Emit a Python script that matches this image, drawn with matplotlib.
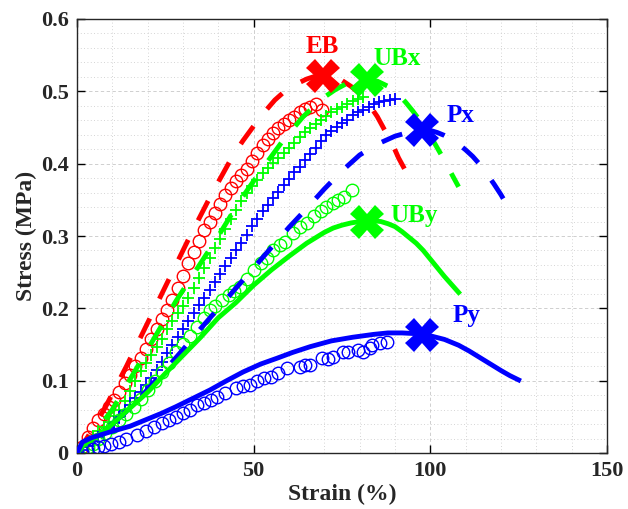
import matplotlib
matplotlib.use("Agg")
import matplotlib.pyplot as plt
from matplotlib.ticker import MultipleLocator, FixedLocator

plt.rcParams['font.family'] = ['Liberation Serif', 'DejaVu Serif']
plt.rcParams['font.weight'] = 'bold'

# ---------------- data ----------------
# EB: experiment (circles) and model (dashed)
eb_exp_x = [0, 1.5, 3, 4.5, 6, 7.5, 9, 10.5, 12, 13.5, 15, 16.5, 18, 19.5, 21, 22.5, 24, 25.5, 27, 28.5,
            30, 31.5, 33, 34.5, 36, 37.5, 39, 40.5, 42, 43.5, 45, 46.5, 48, 49.5, 51, 52.5, 54, 55.5,
            57, 58.5, 60, 61.5, 63, 64.5, 66, 67.5, 69.4]
eb_exp_y = [0, 0.008, 0.022, 0.034, 0.045, 0.054, 0.063, 0.073, 0.085, 0.097, 0.108, 0.120, 0.132, 0.144,
            0.158, 0.172, 0.185, 0.198, 0.212, 0.228, 0.245, 0.262, 0.278, 0.293, 0.308, 0.320, 0.332,
            0.344, 0.356, 0.367, 0.376, 0.384, 0.393, 0.403, 0.415, 0.426, 0.434, 0.442, 0.449, 0.455,
            0.460, 0.465, 0.471, 0.476, 0.479, 0.482, 0.474]
eb_mod_x = [0, 3, 8, 14, 20, 26, 32, 38, 44, 47, 50, 53, 56, 59, 62, 65, 67.5, 70, 72.5, 75, 77.5, 80,
            82.5, 85, 87, 89, 91, 93, 94.3]
eb_mod_y = [0, 0.022, 0.063, 0.120, 0.180, 0.240, 0.300, 0.357, 0.410, 0.432, 0.452, 0.471, 0.488, 0.501,
            0.510, 0.517, 0.521, 0.522, 0.520, 0.515, 0.507, 0.497, 0.483, 0.465, 0.447, 0.430, 0.408,
            0.390, 0.378]

# UBx: experiment (+) and model (dashed)
ubx_exp_x = [0, 1.5, 3, 4.5, 6, 7.5, 9, 10.5, 12, 13.5, 15, 16.5, 18, 19.5, 21, 22.5, 24, 25.5, 27, 28.5,
             30, 31.5, 33, 34.5, 36, 37.5, 39, 40.5, 42, 43.5, 45, 46.5, 48, 49.5, 51, 52.5, 54, 55.5,
             57, 58.5, 60, 61.5, 63, 64.5, 66, 67.5, 69, 70.5, 72, 73.5, 75, 76.5, 78, 79.5, 81]
ubx_exp_y = [0, 0.008, 0.015, 0.022, 0.030, 0.036, 0.043, 0.051, 0.060, 0.072, 0.086, 0.100, 0.113, 0.124,
             0.135, 0.147, 0.158, 0.171, 0.183, 0.194, 0.203, 0.214, 0.228, 0.242, 0.256, 0.270, 0.283,
             0.296, 0.310, 0.323, 0.336, 0.348, 0.360, 0.369, 0.378, 0.387, 0.394, 0.401, 0.408, 0.415,
             0.422, 0.429, 0.437, 0.444, 0.450, 0.455, 0.461, 0.466, 0.471, 0.475, 0.478, 0.482, 0.486,
             0.489, 0.492]
ubx_mod_x = [0, 4, 10, 16, 22, 28, 34, 40, 46, 52, 58, 64, 70, 73, 76, 79, 82, 85, 88, 90.5, 93, 95, 97,
             99, 101, 103, 105, 108]
ubx_mod_y = [0, 0.022, 0.060, 0.110, 0.160, 0.210, 0.255, 0.300, 0.348, 0.390, 0.430, 0.465, 0.492, 0.502,
             0.510, 0.514, 0.516, 0.514, 0.507, 0.498, 0.485, 0.473, 0.460, 0.445, 0.430, 0.413, 0.395,
             0.368]

# Px: experiment (+) and model (dashed)
px_exp_x = [0, 1.5, 3, 4.5, 6, 7.5, 9, 10.5, 12, 13.5, 15, 16.5, 18, 19.5, 21, 22.5, 24, 25.5, 27, 28.5,
            30, 31.5, 33, 34.5, 36, 37.5, 39, 40.5, 42, 43.5, 45, 46.5, 48, 49.5, 51, 52.5, 54, 55.5,
            57, 58.5, 60, 61.5, 63, 64.5, 66, 67.5, 69, 70.5, 72, 73.5, 75, 76.5, 78, 79.5, 81, 82.5,
            84, 85.5, 87, 88.5, 90]
px_exp_y = [0, 0.004, 0.010, 0.016, 0.022, 0.028, 0.035, 0.042, 0.050, 0.058, 0.067, 0.076, 0.085, 0.094,
            0.104, 0.115, 0.126, 0.138, 0.149, 0.161, 0.172, 0.183, 0.193, 0.204, 0.214, 0.225, 0.236,
            0.247, 0.258, 0.269, 0.280, 0.291, 0.302, 0.314, 0.324, 0.334, 0.343, 0.352, 0.361, 0.370,
            0.379, 0.388, 0.396, 0.405, 0.413, 0.422, 0.431, 0.439, 0.445, 0.451, 0.456, 0.461, 0.467,
            0.471, 0.474, 0.478, 0.482, 0.485, 0.487, 0.488, 0.489]
px_mod_x = [0, 2, 6, 10, 15, 20, 25, 30, 35, 40, 45, 50, 55, 60, 65, 70, 75, 80, 85, 90, 95, 98, 100,
            102, 104, 106, 108, 110, 112, 114, 116, 118, 120, 122]
px_mod_y = [0, 0.012, 0.025, 0.040, 0.062, 0.088, 0.115, 0.143, 0.172, 0.200, 0.228, 0.256, 0.284, 0.312,
            0.338, 0.365, 0.390, 0.412, 0.427, 0.438, 0.445, 0.447, 0.446, 0.443, 0.439, 0.434, 0.427,
            0.419, 0.410, 0.399, 0.386, 0.372, 0.357, 0.340]

# UBy: experiment (circles) and model (solid)
uby_exp_x = [0, 1.5, 3, 4.5, 6, 8, 10, 12, 14, 16, 18, 20, 22, 24, 26, 28, 30, 32, 34, 36, 37.6, 39, 41,
             43, 44.5, 46, 48, 50, 52, 53.8, 55.5, 57.5, 59, 61, 63, 65, 67, 69, 70.5, 72.5, 74, 75.5,
             77.8]
uby_exp_y = [0, 0.003, 0.008, 0.013, 0.020, 0.028, 0.036, 0.045, 0.054, 0.064, 0.075, 0.087, 0.099, 0.112,
             0.125, 0.139, 0.151, 0.162, 0.174, 0.187, 0.198, 0.203, 0.212, 0.219, 0.224, 0.230, 0.240,
             0.253, 0.262, 0.270, 0.280, 0.287, 0.292, 0.304, 0.313, 0.318, 0.327, 0.335, 0.340, 0.346,
             0.350, 0.354, 0.364]
uby_mod_x = [0, 2, 6, 10, 15, 20, 25, 30, 35, 40, 45, 50, 55, 60, 65, 70, 72.5, 75, 77.5, 80, 84, 86,
             88, 90, 92, 94, 96, 98, 100, 102, 104, 106, 108]
uby_mod_y = [0, 0.012, 0.024, 0.040, 0.062, 0.084, 0.110, 0.135, 0.160, 0.187, 0.208, 0.232, 0.253, 0.272,
             0.290, 0.305, 0.311, 0.315, 0.318, 0.320, 0.321, 0.320, 0.317, 0.313, 0.306, 0.298, 0.290,
             0.280, 0.268, 0.256, 0.244, 0.233, 0.222]

# Py: experiment (circles) and model (solid)
py_exp_x = [0, 1.5, 2.8, 4.5, 6, 7.5, 9.5, 12, 14, 17, 19.5, 21.8, 24, 26, 28, 30, 32, 34, 36, 38, 39.6,
            42, 45, 47, 49, 51, 53, 55, 57, 59.4, 63.1, 64.5, 66, 69.3, 71, 72.5, 75.4, 76.8, 79.6, 81,
            82.9, 83.4, 85.8, 87.7]
py_exp_y = [0, 0.002, 0.004, 0.006, 0.008, 0.010, 0.012, 0.015, 0.019, 0.025, 0.030, 0.036, 0.041, 0.046,
            0.050, 0.055, 0.060, 0.066, 0.069, 0.073, 0.078, 0.083, 0.090, 0.092, 0.094, 0.099, 0.103,
            0.105, 0.110, 0.117, 0.119, 0.121, 0.122, 0.131, 0.130, 0.133, 0.140, 0.140, 0.142, 0.140,
            0.145, 0.149, 0.152, 0.153]
py_mod_x = [0, 1.5, 4, 9.3, 15, 19, 24, 28, 33, 37.6, 42, 47, 52, 56.6, 61, 66, 72, 78, 84, 88, 92, 96,
            100, 104, 108, 111, 114, 117, 120, 122.5, 125]
py_mod_y = [0, 0.015, 0.021, 0.029, 0.037, 0.045, 0.055, 0.064, 0.076, 0.087, 0.099, 0.112, 0.123, 0.131,
            0.139, 0.147, 0.155, 0.160, 0.164, 0.166, 0.166, 0.165, 0.162, 0.157, 0.149, 0.141, 0.132,
            0.123, 0.114, 0.107, 0.101]

# Failure points and their labels
fail_names = ['EB', 'UBx', 'Px', 'UBy', 'Py']
fail_x = [69.6, 82.0, 97.6, 82.0, 97.6]
fail_y = [0.521, 0.516, 0.447, 0.320, 0.163]
label_x = [64.8, 83.8, 104.7, 88.6, 106.4]
label_y = [0.553, 0.537, 0.458, 0.320, 0.181]

x_ticks = [0, 50, 100, 150]
y_ticks = [0, 0.1, 0.2, 0.3, 0.4, 0.5, 0.6]
y_tick_labels = ['0', '0.1', '0.2', '0.3', '0.4', '0.5', '0.6']

RED, GREEN, BLUE = (1, 0, 0), (0, 1, 0), (0, 0, 1)
fail_colors = [RED, GREEN, BLUE, GREEN, BLUE]

# ---------------- figure ----------------
fig = plt.figure(figsize=(6.28, 5.09), dpi=100)
ax = fig.add_axes([77 / 628, 1 - 453 / 509, 530 / 628, 434 / 509])

ax.set_xlim(0, 150)
ax.set_ylim(0, 0.6)
ax.xaxis.set_major_locator(FixedLocator(x_ticks))
ax.yaxis.set_major_locator(FixedLocator(y_ticks))
ax.set_yticklabels(y_tick_labels)
ax.xaxis.set_minor_locator(MultipleLocator(10))
ax.yaxis.set_minor_locator(MultipleLocator(0.02))
ax.grid(which='major', color='0.78', ls=(0, (4, 3)), lw=0.6)
ax.grid(which='minor', color='0.78', ls=(0, (1, 3)), lw=0.6)
ax.set_axisbelow(True)
ax.tick_params(which='major', direction='in', length=6, width=1, top=True, right=True,
               labelsize=16, pad=6)
ax.tick_params(which='minor', length=0)
for lab in ax.get_xticklabels() + ax.get_yticklabels():
    lab.set_fontweight('bold')
    lab.set_color('0.15')
for s in ax.spines.values():
    s.set_linewidth(1.0)
    s.set_color('0.15')

mk = dict(ls='none', mfc='none', zorder=2)
ax.plot(eb_exp_x, eb_exp_y, marker='o', ms=9, mew=1.0, mec=RED, **mk)
ax.plot(ubx_exp_x, ubx_exp_y, marker='+', ms=8, mew=1.3, mec=GREEN, **mk)
ax.plot(px_exp_x, px_exp_y, marker='+', ms=8, mew=1.3, mec=BLUE, **mk)
ax.plot(uby_exp_x, uby_exp_y, marker='o', ms=9, mew=1.0, mec=GREEN, **mk)
ax.plot(py_exp_x, py_exp_y, marker='o', ms=9, mew=1.0, mec=BLUE, **mk)

dash = (0, (4.5, 4.5))
ax.plot(eb_mod_x, eb_mod_y, color=RED, lw=3.5, ls=dash, zorder=3)
ax.plot(ubx_mod_x, ubx_mod_y, color=GREEN, lw=3.5, ls=dash, zorder=3)
ax.plot(px_mod_x, px_mod_y, color=BLUE, lw=3.5, ls=dash, zorder=3)
ax.plot(uby_mod_x, uby_mod_y, color=GREEN, lw=3.5, ls='-', zorder=3)
ax.plot(py_mod_x, py_mod_y, color=BLUE, lw=3.5, ls='-', zorder=3)

for nm, fx, fy, lx, ly, c in zip(fail_names, fail_x, fail_y, label_x, label_y, fail_colors):
    ax.plot([fx], [fy], marker='X', ms=24, mfc=c, mec=c, mew=0, ls='none', zorder=4)
    ax.text(lx, ly, nm, color=c, fontsize=18, fontweight='bold', ha='left', va='baseline', zorder=5)

ax.set_xlabel('Strain (%)', fontsize=17, fontweight='bold', color='0.15', labelpad=2)
ax.set_ylabel('Stress (MPa)', fontsize=17, fontweight='bold', color='0.15', labelpad=3)

fig.savefig('out.png', dpi=100, facecolor='white')
